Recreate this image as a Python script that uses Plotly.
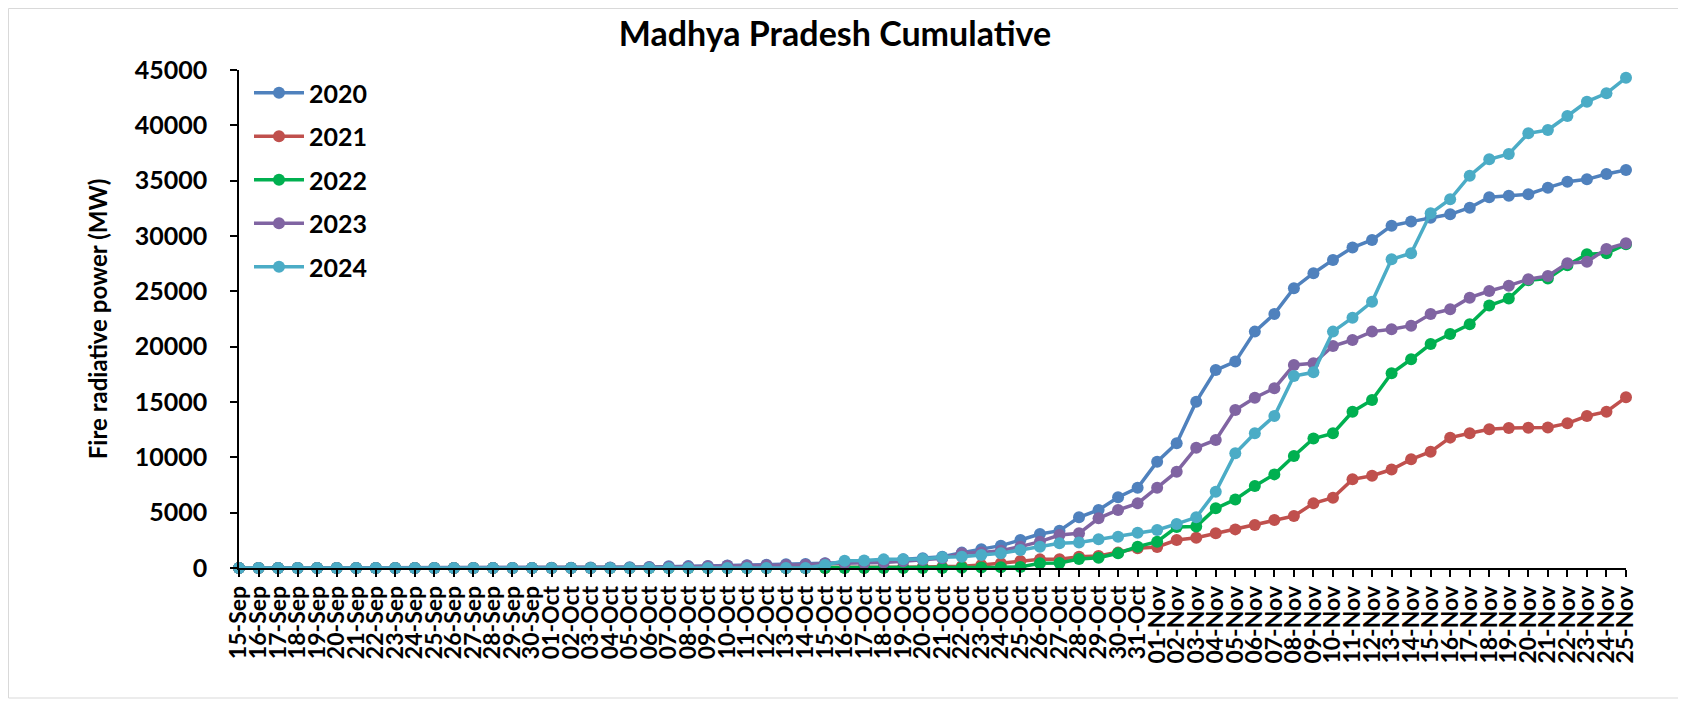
import plotly.graph_objects as go

dates = (
    ["15-Sep", "16-Sep", "17-Sep", "18-Sep", "19-Sep", "20-Sep", "21-Sep", "22-Sep",
     "23-Sep", "24-Sep", "25-Sep", "26-Sep", "27-Sep", "28-Sep", "29-Sep", "30-Sep"]
    + ["01-Oct", "02-Oct", "03-Oct", "04-Oct", "05-Oct", "06-Oct", "07-Oct", "08-Oct",
       "09-Oct", "10-Oct", "11-Oct", "12-Oct", "13-Oct", "14-Oct", "15-Oct", "16-Oct",
       "17-Oct", "18-Oct", "19-Oct", "20-Oct", "21-Oct", "22-Oct", "23-Oct", "24-Oct",
       "25-Oct", "26-Oct", "27-Oct", "28-Oct", "29-Oct", "30-Oct", "31-Oct"]
    + ["01-Nov", "02-Nov", "03-Nov", "04-Nov", "05-Nov", "06-Nov", "07-Nov", "08-Nov",
       "09-Nov", "10-Nov", "11-Nov", "12-Nov", "13-Nov", "14-Nov", "15-Nov", "16-Nov",
       "17-Nov", "18-Nov", "19-Nov", "20-Nov", "21-Nov", "22-Nov", "23-Nov", "24-Nov",
       "25-Nov"]
)

sep_zero = [0] * 16

y2020 = sep_zero + [
    20, 30, 40, 50, 70, 100, 150, 170, 190, 220, 250, 290, 330, 370, 420, 480,
    550, 650, 780, 880, 1020, 1390, 1690, 2020, 2530, 3070, 3370, 4580, 5240, 6390, 7250,
] + [
    9600, 11270, 15030, 17890, 18650, 21360, 22960, 25280, 26640, 27840, 28960, 29640,
    30930, 31300, 31650, 31960, 32560, 33500, 33640, 33770, 34370, 34910, 35120, 35600, 35960,
]

y2021 = sep_zero + [
    0, 0, 0, 0, 0, 0, 0, 0, 0, 0, 0, 0, 0, 0, 10, 20,
    30, 40, 60, 80, 100, 150, 270, 420, 630, 780, 800, 1020, 1080, 1390, 1780,
] + [
    1900, 2530, 2740, 3130, 3490, 3890, 4340, 4700, 5840, 6350, 8010, 8340,
    8900, 9820, 10510, 11780, 12170, 12530, 12650, 12680, 12700, 13070, 13730, 14120, 15420,
]

y2022 = sep_zero + [
    0, 0, 0, 0, 0, 0, 0, 0, 0, 0, 0, 0, 0, 0, 0, 0,
    0, 0, 0, 0, 0, 20, 40, 60, 100, 420, 450, 810, 930, 1330, 1930,
] + [
    2380, 3700, 3750, 5390, 6200, 7410, 8460, 10120, 11700, 12170, 14120, 15180,
    17600, 18860, 20240, 21150, 22020, 23710, 24350, 26000, 26150, 27350, 28350, 28450, 29250,
]

y2023 = sep_zero + [
    0, 0, 10, 20, 30, 60, 100, 120, 150, 200, 220, 250, 280, 300, 400, 420,
    450, 500, 600, 720, 880, 1330, 1400, 1570, 1930, 2380, 2980, 3130, 4490, 5240, 5840,
] + [
    7260, 8700, 10870, 11570, 14280, 15390, 16240, 18340, 18500, 20060, 20600, 21360,
    21570, 21900, 22950, 23380, 24430, 25030, 25510, 26090, 26390, 27530, 27680, 28830, 29340,
]

y2024 = sep_zero + [
    0, 0, 0, 0, 0, 0, 0, 0, 0, 0, 0, 0, 0, 0, 270, 660,
    680, 780, 800, 820, 970, 1020, 1170, 1330, 1630, 1930, 2230, 2300, 2590, 2830, 3190,
] + [
    3430, 3980, 4580, 6900, 10360, 12170, 13730, 17350, 17680, 21360, 22620, 24060,
    27900, 28440, 32050, 33320, 35450, 36930, 37410, 39280, 39580, 40840, 42140, 42890, 44300,
]

series_names = ["2020", "2021", "2022", "2023", "2024"]
series_values = [y2020, y2021, y2022, y2023, y2024]
series_colors = ["#4F81BD", "#C0504D", "#00B050", "#8064A2", "#4BACC6"]

y_ticks = [0, 5000, 10000, 15000, 20000, 25000, 30000, 35000, 40000, 45000]

FONT = "Lato, 'Liberation Sans', sans-serif"

fig = go.Figure()
for name, vals, col in zip(series_names, series_values, series_colors):
    fig.add_trace(go.Scatter(
        x=dates, y=vals, name=name, mode="lines+markers",
        line=dict(color=col, width=3.5),
        marker=dict(color=col, size=12),
        cliponaxis=False,
        legendgroup=name,
    ))

# page body has an 8px margin; figure sized to fill the rest of the window
W, H = 1678, 695
L, R, T, B = 231, 60, 62, 135
pw, ph = W - L - R, H - T - B
plot_bottom = T + ph

fig.update_layout(
    width=W, height=H,
    margin=dict(l=L, r=R, t=T, b=B),
    paper_bgcolor="white", plot_bgcolor="white",
    font=dict(family=FONT, color="black", size=24),
    title=dict(text="<b>Madhya Pradesh Cumulative</b>", x=827 / W, xanchor="center",
               y=1 - 26 / H, yanchor="middle", font=dict(size=34, family=FONT, color="black")),
    showlegend=True,
    legend=dict(x=10 / pw, y=1.0, xanchor="left", yanchor="top", bgcolor="rgba(0,0,0,0)",
                font=dict(size=25, family=FONT, color="black", weight="bold"),
                tracegroupgap=8, itemwidth=50),
    shapes=[dict(type="rect", xref="paper", yref="paper",
                 x0=(0.5 - L) / pw, x1=(1673 - L) / pw,
                 y0=(plot_bottom - 690) / ph, y1=(plot_bottom - 0.5) / ph,
                 line=dict(color="#D9D9D9", width=1), fillcolor="rgba(0,0,0,0)", layer="below")],
)

fig.update_xaxes(
    type="category", range=[0, len(dates) - 1],
    tickmode="array", tickvals=dates, ticktext=dates,
    tickangle=-90, tickfont=dict(size=23, family=FONT, color="black", weight="bold"),
    showline=True, linecolor="black", linewidth=1.5,
    ticks="outside", ticklen=7, tickcolor="black", tickwidth=1.5,
    showgrid=False, zeroline=False,
)
fig.update_yaxes(
    range=[0, 45000], tickmode="array", tickvals=y_ticks, ticktext=[str(v) for v in y_ticks],
    tickfont=dict(size=25, family=FONT, color="black", weight="bold"),
    ticklabelstandoff=18,
    showline=True, linecolor="black", linewidth=1.5,
    ticks="outside", ticklen=7, tickcolor="black", tickwidth=1.5,
    showgrid=False, zeroline=False,
    title=dict(text="<b>Fire radiative power (MW)</b>", standoff=20,
               font=dict(size=24, family=FONT, color="black")),
)

fig.write_html("out.html")
